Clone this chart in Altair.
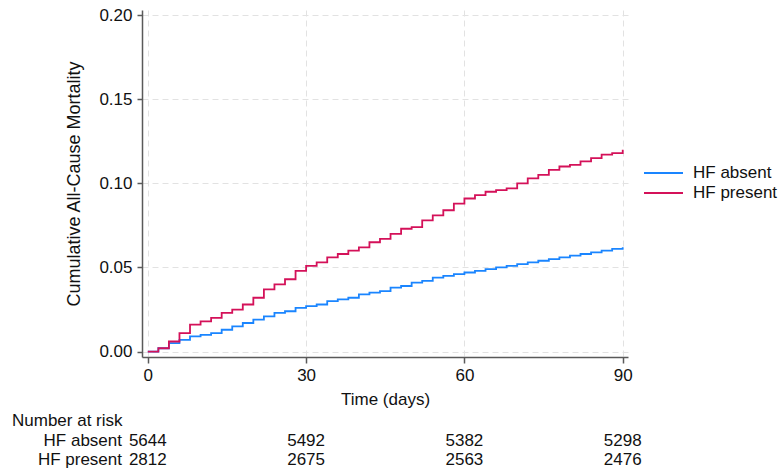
import altair as alt
import pandas as pd

# ---- data ----
days = [0, 2, 4, 6, 8, 10, 12, 14, 16, 18, 20, 22, 24, 26, 28, 30, 32, 34, 36, 38, 40,
        42, 44, 46, 48, 50, 52, 54, 56, 58, 60, 62, 64, 66, 68, 70, 72, 74, 76, 78, 80,
        82, 84, 86, 88, 90]
hf_absent = [0.000, 0.002, 0.005, 0.007, 0.009, 0.010, 0.011, 0.013, 0.015, 0.017, 0.019,
             0.021, 0.023, 0.024, 0.026, 0.027, 0.028, 0.030, 0.031, 0.032, 0.034,
             0.035, 0.036, 0.038, 0.039, 0.041, 0.042, 0.044, 0.045, 0.046, 0.047,
             0.048, 0.049, 0.050, 0.051, 0.052, 0.053, 0.054, 0.055, 0.056, 0.057,
             0.058, 0.059, 0.060, 0.061, 0.062]
hf_present = [0.000, 0.002, 0.006, 0.011, 0.016, 0.018, 0.020, 0.023, 0.025, 0.028, 0.032,
              0.037, 0.040, 0.043, 0.048, 0.051, 0.053, 0.056, 0.058, 0.060, 0.062,
              0.065, 0.067, 0.070, 0.073, 0.074, 0.078, 0.081, 0.084, 0.088, 0.091,
              0.093, 0.095, 0.096, 0.097, 0.100, 0.103, 0.105, 0.108, 0.110, 0.111,
              0.113, 0.115, 0.117, 0.118, 0.120]

groups = ["HF absent", "HF present"]
colors = ["#1a85ff", "#d41159"]

risk_times = [0, 30, 60, 90]
risk_absent = [5644, 5492, 5382, 5298]
risk_present = [2812, 2675, 2563, 2476]

x_ticks = [0, 30, 60, 90]
y_ticks = [0.0, 0.05, 0.10, 0.15, 0.20]

# ---- tables ----
curves = pd.concat([
    pd.DataFrame({"time": days, "mort": hf_absent, "group": groups[0]}),
    pd.DataFrame({"time": days, "mort": hf_present, "group": groups[1]}),
])
risk_a = pd.DataFrame({"time": risk_times, "n": risk_absent})
risk_p = pd.DataFrame({"time": risk_times, "n": risk_present})

FONT = "Liberation Sans"
TXT = "#111111"
FS = 17

xscale = alt.Scale(domain=[-1.1, 91], nice=False, zero=False)
yscale = alt.Scale(domain=[-0.0032, 0.203], nice=False, zero=False)

lines = alt.Chart(curves).mark_line(interpolate="step-after", strokeWidth=1.8).encode(
    x=alt.X("time:Q", scale=xscale,
            axis=alt.Axis(values=x_ticks, title="Time (days)", format="d",
                          titlePadding=8, labelPadding=4, tickSize=6)),
    y=alt.Y("mort:Q", scale=yscale,
            axis=alt.Axis(values=y_ticks, format=".2f", title="Cumulative All-Cause Mortality",
                          titleFontSize=18, titlePadding=15, labelPadding=5, tickSize=5)),
    color=alt.Color("group:N", scale=alt.Scale(domain=groups, range=colors),
                    legend=alt.Legend(title=None, orient="none", legendX=501, legendY=153,
                                      symbolType="stroke", symbolSize=1521,
                                      symbolStrokeWidth=1.8, labelOffset=9,
                                      clipHeight=20, rowPadding=0, padding=0,
                                      labelFontSize=FS, labelFont=FONT, labelColor=TXT)),
)

risk_head = alt.Chart(pd.DataFrame({"t": ["Number at risk"]})).mark_text(
    align="left", baseline="middle", fontSize=FS, font=FONT, color=TXT
).encode(x=alt.value(-130), y=alt.value(411), text="t:N")

lab_a = alt.Chart(pd.DataFrame({"t": [groups[0]]})).mark_text(
    align="right", baseline="middle", fontSize=FS, font=FONT, color=TXT
).encode(x=alt.value(-20), y=alt.value(431), text="t:N")
lab_p = alt.Chart(pd.DataFrame({"t": [groups[1]]})).mark_text(
    align="right", baseline="middle", fontSize=FS, font=FONT, color=TXT
).encode(x=alt.value(-20), y=alt.value(450), text="t:N")

num_a = alt.Chart(risk_a).mark_text(
    align="center", baseline="middle", fontSize=FS, font=FONT, color=TXT
).encode(x=alt.X("time:Q", scale=xscale), y=alt.value(431), text="n:Q")
num_p = alt.Chart(risk_p).mark_text(
    align="center", baseline="middle", fontSize=FS, font=FONT, color=TXT
).encode(x=alt.X("time:Q", scale=xscale), y=alt.value(450), text="n:Q")

chart = alt.layer(lines, risk_head, lab_a, lab_p, num_a, num_p).properties(
    width=486, height=347,
    padding={"left": 142, "top": 10, "right": 153, "bottom": 115},
    autosize=alt.AutoSizeParams(type="none"),
    background="white",
).configure_view(stroke=None).configure_axis(
    labelFont=FONT, titleFont=FONT, labelFontSize=FS, titleFontSize=FS,
    labelColor=TXT, titleColor=TXT, titleFontWeight="normal",
    domainColor="#5a5a5a", domainWidth=1.5, tickColor="#5a5a5a", tickWidth=1.5,
    gridColor="#e2e2e2", gridDash=[6, 4], gridWidth=1,
)

chart.save("out.html", embed_options={"renderer": "svg", "actions": False})
